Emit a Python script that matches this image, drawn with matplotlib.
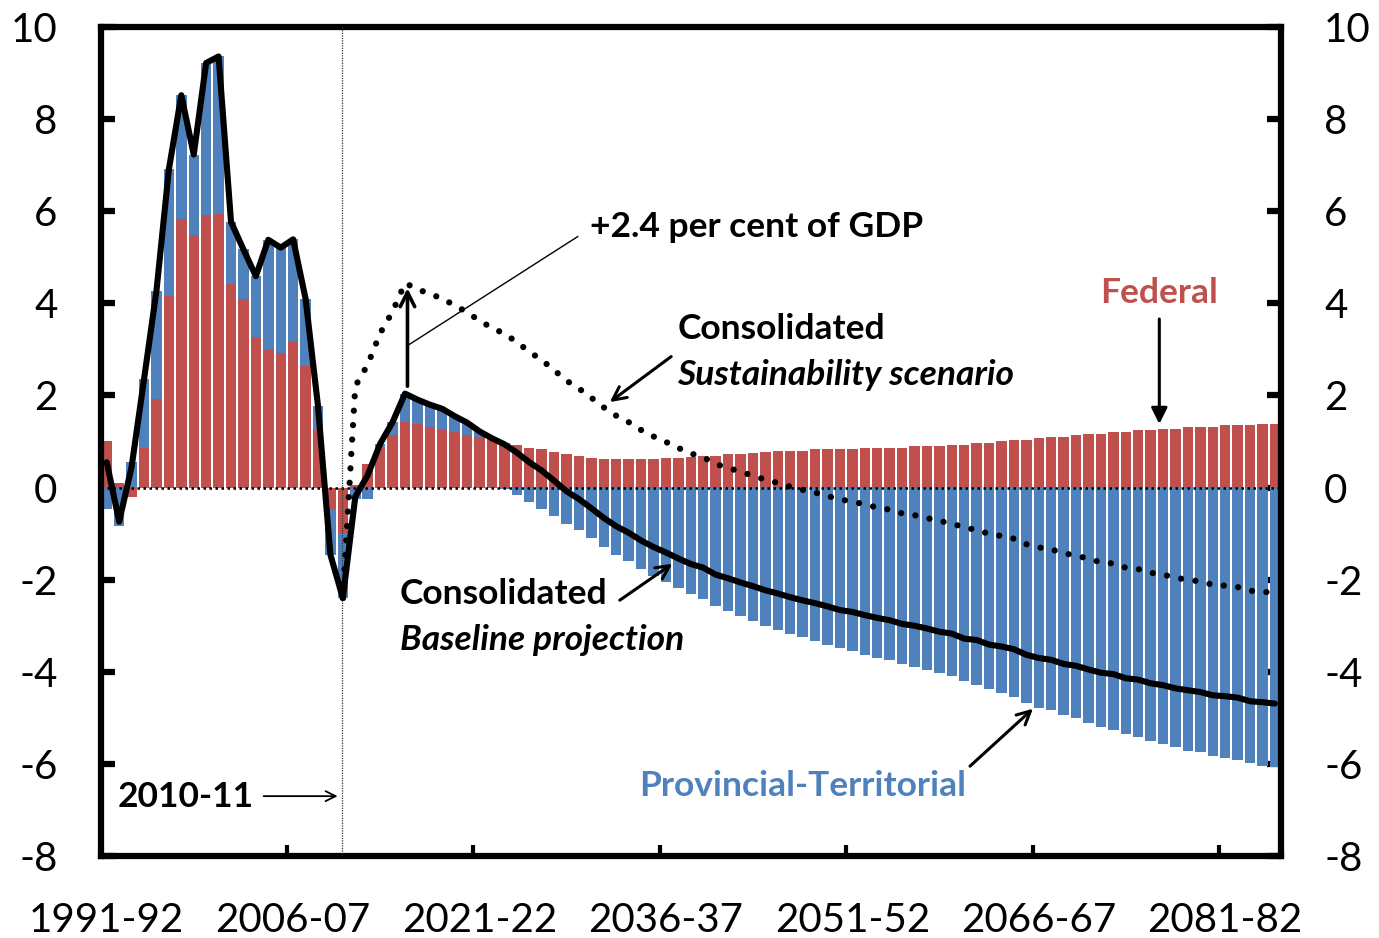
import matplotlib
matplotlib.use("Agg")
import matplotlib.pyplot as plt

plt.rcParams['font.family'] = ['Lato', 'DejaVu Sans']
plt.rcParams['axes.unicode_minus'] = False

# ---- data -------------------------------------------------------------
start_year = 1991
n_years = 95  # 1991-92 .. 2085-86
years = [f"{y}-{(y + 1) % 100:02d}" for y in range(start_year, start_year + n_years)]

federal = [1.01, 0.10, -0.20, 0.86, 1.93, 4.16, 5.84, 5.49, 5.91, 5.94,
           4.41, 4.10, 3.27, 3.01, 2.93, 3.19, 2.64, 1.24, -0.46, -0.98,
           0.05, 0.52, 0.85, 1.14, 1.42, 1.38, 1.31, 1.28, 1.20, 1.14,
           1.10, 1.04, 0.97, 0.93, 0.86, 0.83, 0.77, 0.72, 0.68, 0.64,
           0.62, 0.62, 0.62, 0.62, 0.62, 0.65, 0.65, 0.66, 0.69, 0.69,
           0.72, 0.72, 0.75, 0.77, 0.79, 0.79, 0.80, 0.83, 0.83, 0.83,
           0.84, 0.86, 0.86, 0.87, 0.87, 0.90, 0.90, 0.90, 0.93, 0.93,
           0.97, 0.97, 1.01, 1.04, 1.04, 1.08, 1.10, 1.10, 1.14, 1.17,
           1.17, 1.21, 1.21, 1.25, 1.25, 1.28, 1.28, 1.31, 1.31, 1.31,
           1.35, 1.35, 1.35, 1.38, 1.38]

provincial = [-0.46, -0.84, 0.55, 1.49, 2.34, 2.75, 2.68, 1.74, 3.31, 3.42,
              1.36, 1.07, 1.32, 2.37, 2.28, 2.20, 1.46, 0.53, -1.00, -1.42,
              -0.25, -0.25, 0.10, 0.28, 0.62, 0.53, 0.49, 0.43, 0.35, 0.27,
              0.12, 0.03, -0.03, -0.17, -0.31, -0.46, -0.62, -0.80, -0.93, -1.09,
              -1.28, -1.46, -1.60, -1.77, -1.91, -2.06, -2.19, -2.32, -2.43, -2.58,
              -2.69, -2.78, -2.89, -3.00, -3.09, -3.17, -3.25, -3.34, -3.41, -3.49,
              -3.54, -3.63, -3.69, -3.75, -3.83, -3.90, -3.96, -4.03, -4.10, -4.21,
              -4.28, -4.38, -4.46, -4.55, -4.67, -4.78, -4.84, -4.93, -5.01, -5.12,
              -5.19, -5.26, -5.35, -5.42, -5.50, -5.57, -5.64, -5.71, -5.75, -5.82,
              -5.88, -5.91, -5.99, -6.04, -6.07]

consolidated_baseline = [0.55, -0.74, 0.45, 2.35, 4.27, 6.91, 8.52, 7.23, 9.22, 9.36,
                         5.77, 5.17, 4.59, 5.38, 5.21, 5.39, 4.10, 1.77, -1.46, -2.40,
                         -0.20, 0.27, 0.95, 1.42, 2.04, 1.91, 1.80, 1.71, 1.55, 1.41,
                         1.22, 1.07, 0.94, 0.76, 0.55, 0.37, 0.15, -0.08, -0.25, -0.45,
                         -0.66, -0.84, -0.98, -1.15, -1.29, -1.41, -1.54, -1.66, -1.74, -1.89,
                         -1.97, -2.06, -2.14, -2.23, -2.30, -2.38, -2.45, -2.51, -2.58, -2.66,
                         -2.70, -2.77, -2.83, -2.88, -2.96, -3.00, -3.06, -3.13, -3.17, -3.28,
                         -3.31, -3.41, -3.45, -3.51, -3.63, -3.70, -3.74, -3.83, -3.87, -3.95,
                         -4.02, -4.05, -4.14, -4.17, -4.25, -4.29, -4.36, -4.40, -4.44, -4.51,
                         -4.53, -4.56, -4.64, -4.66, -4.69]

sustain_start = 2010  # first year of the sustainability series (2010-11)
consolidated_sustain = [-2.40,
                        2.20, 2.67, 3.35, 3.82, 4.44, 4.31, 4.20, 4.11, 3.95, 3.81,
                        3.62, 3.47, 3.34, 3.16, 2.95, 2.77, 2.55, 2.32, 2.15, 1.95,
                        1.74, 1.56, 1.42, 1.25, 1.11, 0.99, 0.86, 0.74, 0.66, 0.51,
                        0.43, 0.34, 0.26, 0.17, 0.10, 0.02, -0.05, -0.11, -0.18, -0.26,
                        -0.30, -0.37, -0.43, -0.48, -0.56, -0.60, -0.66, -0.73, -0.77, -0.88,
                        -0.91, -1.01, -1.05, -1.11, -1.23, -1.30, -1.34, -1.43, -1.47, -1.55,
                        -1.62, -1.65, -1.74, -1.77, -1.85, -1.89, -1.96, -2.00, -2.04, -2.11,
                        -2.13, -2.16, -2.24, -2.26, -2.29]

x_tick_every = 15
y_ticks = [-8, -6, -4, -2, 0, 2, 4, 6, 8, 10]
y_tick_labels = ["-8", "-6", "-4", "-2", "0", "2", "4", "6", "8", "10"]

RED = "#C0504D"
BLUE = "#4F81BD"

# ---- figure -------------------------------------------------------------
fig = plt.figure(figsize=(13.79, 9.38), dpi=100)
ax = fig.add_axes([0.0729, 0.0874, 0.8561, 0.8838])

xc = [i + 0.5 for i in range(n_years)]
bar_w = 0.84
ax.bar(xc, federal, width=bar_w, color=RED, edgecolor="none", zorder=2)
prov_bottom = [f if (f >= 0) == (p >= 0) else 0 for f, p in zip(federal, provincial)]
ax.bar(xc, provincial, width=bar_w, bottom=prov_bottom, color=BLUE, edgecolor="none", zorder=2)

# zero line (dotted)
ax.axhline(0, color="black", lw=1.8, linestyle=(0, (1, 1.4)), zorder=3)

# 2010-11 marker
i2010 = 2010 - start_year
ax.axvline(i2010 + 0.4, color="#333333", lw=0.9, linestyle=(0, (1, 1)), zorder=3)

# consolidated lines
ax.plot(xc, consolidated_baseline, color="black", lw=4.4, solid_joinstyle="round",
        solid_capstyle="round", zorder=5)
s0 = sustain_start - start_year
xs = xc[s0:s0 + len(consolidated_sustain)]
ax.plot(xs, consolidated_sustain, color="black", lw=4.5, linestyle=(0, (0.01, 2.3)),
        dash_capstyle="round", zorder=5)

ax.set_xlim(0, n_years)
ax.set_ylim(-8, 10)

# axes styling
for s in ax.spines.values():
    s.set_linewidth(4.5)
    s.set_color("black")

ax.set_yticks(y_ticks)
ax.set_yticklabels(y_tick_labels)
ax.tick_params(axis="y", which="major", direction="in", left=True, right=True,
               labelleft=True, labelright=True, length=10, width=4.5,
               labelsize=29, pad=31)

major_x = list(range(0, n_years, x_tick_every))
ax.set_xticks(major_x)
ax.set_xticklabels([])
ax.set_xticks([m + 0.5 for m in major_x], minor=True)
ax.set_xticklabels([years[m] for m in major_x], minor=True)
ax.tick_params(axis="x", which="major", direction="in", length=8, width=3)
ax.tick_params(axis="x", which="minor", length=0, labelsize=29, pad=33)

# ---- annotations ---------------------------------------------------------
fs = 25.5
i2015 = 2015 - start_year
peak_base = consolidated_baseline[i2015]
peak_sust = consolidated_sustain[i2015 - s0]
ax.annotate("", xy=(i2015 + 0.7, peak_sust - 0.05), xytext=(i2015 + 0.7, peak_base + 0.1),
            arrowprops=dict(arrowstyle="->", lw=2.6, color="black", mutation_scale=26),
            zorder=6)
ax.plot([i2015 + 0.8, 38.4], [3.1, 5.45], color="black", lw=1.0, zorder=6)
ax.text(39.4, 5.65, "+2.4 per cent of GDP", fontsize=fs, fontweight="bold",
        ha="left", va="center", zorder=7)

ax.text(46.4, 3.45, "Consolidated", fontsize=fs, fontweight="bold", ha="left", va="center")
ax.text(46.4, 2.45, "Sustainability scenario", fontsize=fs, fontweight="bold",
        fontstyle="italic", ha="left", va="center")
ax.annotate("", xy=(40.8, 1.82), xytext=(46.1, 2.88),
            arrowprops=dict(arrowstyle="->", lw=2.2, color="black", mutation_scale=24))

ax.text(24.1, -2.30, "Consolidated", fontsize=fs, fontweight="bold", ha="left", va="center")
ax.text(24.1, -3.30, "Baseline projection", fontsize=fs, fontweight="bold",
        fontstyle="italic", ha="left", va="center")
ax.annotate("", xy=(46.2, -1.62), xytext=(41.6, -2.48),
            arrowprops=dict(arrowstyle="->", lw=2.2, color="black", mutation_scale=24))

ax.text(85.2, 4.22, "Federal", fontsize=fs, fontweight="bold", color=RED,
        ha="center", va="center")
ax.annotate("", xy=(85.2, 1.32), xytext=(85.2, 3.72),
            arrowprops=dict(arrowstyle="-|>", lw=2.2, color="black", mutation_scale=24))

ax.text(56.5, -6.48, "Provincial-Territorial", fontsize=fs, fontweight="bold", color=BLUE,
        ha="center", va="center")
ax.annotate("", xy=(75.2, -4.76), xytext=(69.8, -6.09),
            arrowprops=dict(arrowstyle="->", lw=2.2, color="black", mutation_scale=24))

ax.text(1.4, -6.72, "2010-11", fontsize=fs, fontweight="bold", ha="left", va="center")
ax.annotate("", xy=(19.3, -6.70), xytext=(12.9, -6.70),
            arrowprops=dict(arrowstyle="->", lw=1.3, color="black", mutation_scale=18))

fig.savefig("out.png", dpi=100)
